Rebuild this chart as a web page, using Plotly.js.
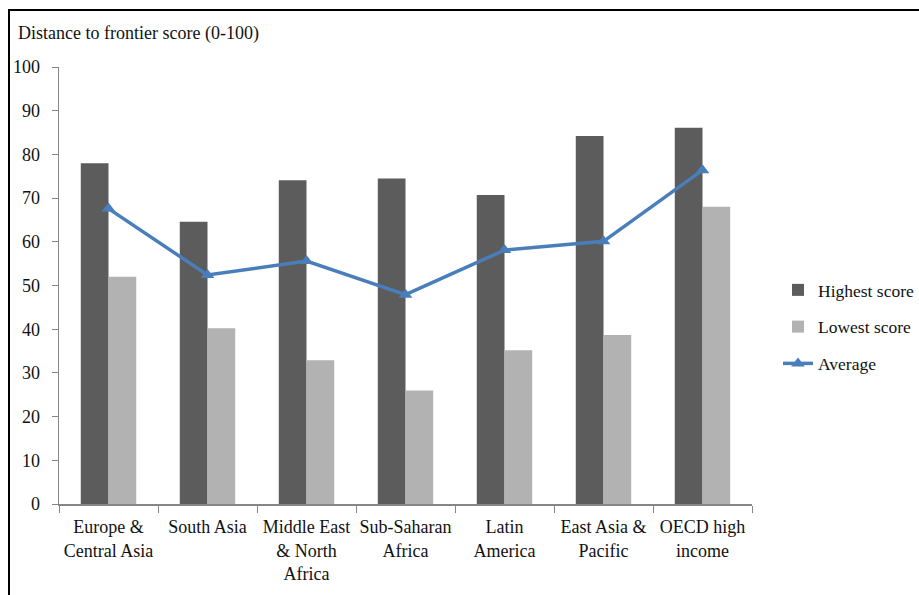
<!DOCTYPE html>
<html>
<head>
<meta charset="utf-8">
<script src="https://cdn.plot.ly/plotly-3.0.1.min.js"></script>
<style>
  html, body { margin: 0; padding: 0; background: #fff; }
  #wrap { position: relative; width: 919px; height: 595px; overflow: hidden; }
  #chart { position: absolute; left: 0; top: 0; width: 919px; height: 595px; }
  #frame { position: absolute; left: 8px; top: 9px; width: 930px; height: 600px;
           border-left: 2px solid #000; border-top: 2px solid #000; pointer-events: none; }
</style>
</head>
<body>
<div id="wrap">
  <div id="chart"></div>
  <div id="frame"></div>
</div>
<script>
// Regions and their distance-to-frontier scores
const regions = [
  "Europe &<br>Central Asia",
  "South Asia",
  "Middle East<br>& North<br>Africa",
  "Sub-Saharan<br>Africa",
  "Latin<br>America",
  "East Asia &<br>Pacific",
  "OECD high<br>income"
];
const highestScore = [78.0, 64.6, 74.1, 74.5, 70.7, 84.2, 86.1];
const lowestScore  = [52.0, 40.2, 32.9, 26.0, 35.2, 38.7, 68.0];
const averageScore = [67.6, 52.4, 55.6, 47.9, 58.1, 60.1, 76.4];
const yTicks = [0, 10, 20, 30, 40, 50, 60, 70, 80, 90, 100];

const serif = "'Liberation Serif', 'Times New Roman', serif";

const traces = [
  {
    type: "bar", name: "Highest score", x: regions, y: highestScore,
    marker: { color: "#5c5c5c" }, legendgroup: "a"
  },
  {
    type: "bar", name: "Lowest score", x: regions, y: lowestScore,
    marker: { color: "#b2b2b2" }, legendgroup: "b"
  },
  {
    type: "scatter", mode: "lines+markers", name: "Average", x: regions, y: averageScore,
    line: { color: "#4a7ebb", width: 3.5 },
    marker: { symbol: "triangle-up", size: 12, color: "#4a7ebb" },
    legendgroup: "c"
  }
];

const layout = {
  width: 919, height: 595,
  margin: { l: 59, r: 167, t: 67, b: 91 },
  paper_bgcolor: "#fff", plot_bgcolor: "#fff",
  font: { family: serif, size: 18, color: "#111" },
  title: {
    text: "Distance to frontier score (0-100)",
    x: 18 / 919, xanchor: "left", xref: "container",
    y: 1 - 33 / 595, yanchor: "middle", yref: "container",
    font: { family: serif, size: 18, color: "#111" }
  },
  barmode: "group", bargap: 0.44, bargroupgap: 0,
  showlegend: true,
  legend: {
    xref: "container", yref: "container",
    x: 778 / 919, xanchor: "left", y: 1 - 327 / 595, yanchor: "middle",
    traceorder: "grouped", tracegroupgap: 11,
    font: { family: serif, size: 17.5, color: "#111" },
    bgcolor: "rgba(0,0,0,0)"
  },
  xaxis: {
    type: "category", tickson: "boundaries", tickangle: 0,
    showline: true, linecolor: "#868686", linewidth: 1.5,
    ticks: "outside", ticklen: 7, tickcolor: "#868686",
    ticklabelstandoff: 6,
    showgrid: false, zeroline: false, automargin: false,
    tickfont: { family: serif, size: 18, color: "#111" },
    fixedrange: true
  },
  yaxis: {
    range: [0, 100], tickvals: yTicks,
    showline: true, linecolor: "#868686", linewidth: 1.5,
    ticks: "outside", ticklen: 6, tickcolor: "#868686",
    ticklabelstandoff: 8, automargin: false,
    showgrid: false, zeroline: false,
    tickfont: { family: serif, size: 18, color: "#111" },
    fixedrange: true
  }
};

Plotly.newPlot("chart", traces, layout, { displayModeBar: false, staticPlot: true });
</script>
</body>
</html>
